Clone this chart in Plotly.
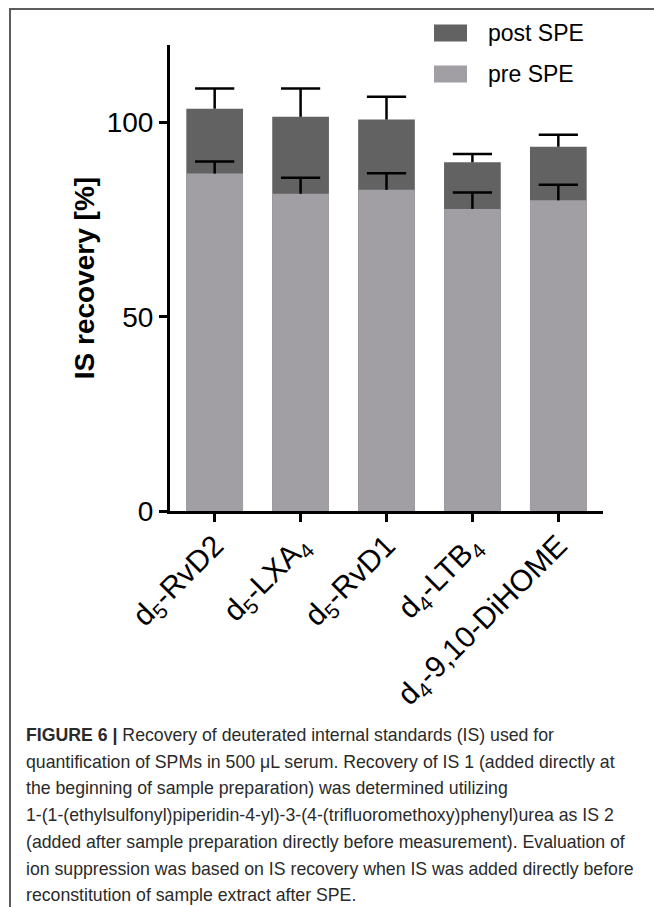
import plotly.graph_objects as go

# Internal standards and their recovery (%)
standards = [
    "d<sub>5</sub>-RvD2",
    "d<sub>5</sub>-LXA<sub>4</sub>",
    "d<sub>5</sub>-RvD1",
    "d<sub>4</sub>-LTB<sub>4</sub>",
    "d<sub>4</sub>-9,10-DiHOME",
]
post_spe = [103.6, 101.5, 100.8, 89.8, 93.8]
post_spe_err = [5.2, 7.3, 5.9, 2.1, 3.1]
pre_spe = [86.9, 81.7, 82.7, 77.8, 80.0]
pre_spe_err = [3.1, 4.1, 4.3, 4.2, 4.0]

y_ticks = [0, 50, 100]

caption_lines = [
    "<b>FIGURE 6 |</b> Recovery of deuterated internal standards (IS) used for",
    "quantification of SPMs in 500 μL serum. Recovery of IS 1 (added directly at",
    "the beginning of sample preparation) was determined utilizing",
    "1-(1-(ethylsulfonyl)piperidin-4-yl)-3-(4-(trifluoromethoxy)phenyl)urea as IS 2",
    "(added after sample preparation directly before measurement). Evaluation of",
    "ion suppression was based on IS recovery when IS was added directly before",
    "reconstitution of sample extract after SPE.",
]

W, H = 654, 907
L, R, T, B = 170, 603, 45, 511  # plot area in pixels

def px(xp):
    return (xp - L) / (R - L)

def py(yp):
    return (B - yp) / (B - T)

POST_COLOR = "#626262"
PRE_COLOR = "#a19fa4"
FONT = "Liberation Sans, Arial, sans-serif"
STEM = 2.5
CAP = 28

fig = go.Figure()
for name, vals, errs, color in [("post SPE", post_spe, post_spe_err, POST_COLOR),
                                ("pre SPE", pre_spe, pre_spe_err, PRE_COLOR)]:
    # bar with an upward-only stem (no end caps)
    fig.add_trace(go.Bar(
        x=standards, y=vals, name=name, marker=dict(color=color, line_width=0),
        width=0.66, showlegend=False,
        error_y=dict(type="data", symmetric=False, array=errs, arrayminus=[0] * len(vals),
                     color="black", thickness=STEM, width=0),
    ))
for vals, errs in [(post_spe, post_spe_err), (pre_spe, pre_spe_err)]:
    # cap at the top of each error bar
    fig.add_trace(go.Scatter(
        x=standards, y=[v + e for v, e in zip(vals, errs)], mode="markers",
        marker=dict(symbol="line-ew", size=CAP, line=dict(color="black", width=STEM)),
        showlegend=False, hoverinfo="skip",
    ))

shapes = []
annotations = []

# legend swatches and labels
for label, color, yc in [("post SPE", POST_COLOR, 33), ("pre SPE", PRE_COLOR, 74)]:
    shapes.append(dict(type="rect", xref="paper", yref="paper",
                       x0=px(434), x1=px(467), y0=py(yc - 8.5), y1=py(yc + 8.5),
                       fillcolor=color, line_width=0))
    annotations.append(dict(xref="paper", yref="paper", x=px(486), y=py(yc),
                            xanchor="left", yanchor="middle", showarrow=False,
                            text=label, font=dict(family=FONT, size=23, color="black")))

# outer frame
shapes.append(dict(type="rect", xref="paper", yref="paper",
                   x0=px(10), x1=px(670), y0=py(920), y1=py(9),
                   line=dict(color="#5c5c5c", width=2), fillcolor="rgba(0,0,0,0)", layer="below"))

# caption
for i, line in enumerate(caption_lines):
    annotations.append(dict(xref="paper", yref="paper", x=px(24), y=py(735 + i * 26.7),
                            xanchor="left", yanchor="middle", showarrow=False, align="left",
                            text=line, font=dict(family=FONT, size=17.7, color="#2a2a2a")))

fig.update_layout(
    width=W, height=H,
    margin=dict(l=L, r=W - R, t=T, b=H - B, pad=0),
    barmode="overlay",
    plot_bgcolor="white", paper_bgcolor="white",
    font=dict(family=FONT, color="black"),
    shapes=shapes, annotations=annotations,
    xaxis=dict(
        range=[-0.52, 4.52], showline=True, linecolor="black", linewidth=3,
        ticks="outside", ticklen=8, tickwidth=3, tickcolor="black",
        tickangle=-45, tickfont=dict(size=30, family=FONT, color="black"),
        ticklabelstandoff=-6,
        showgrid=False, zeroline=False,
    ),
    yaxis=dict(
        range=[0, 120], tickvals=y_ticks, showline=True, linecolor="black", linewidth=3,
        ticks="outside", ticklen=8, tickwidth=3, tickcolor="black",
        tickfont=dict(size=28, family=FONT, color="black"),
        showgrid=False, zeroline=False,
        title=dict(text="<b>IS recovery [%]</b>", font=dict(size=28, family=FONT, color="black"), standoff=4),
    ),
)

fig.write_html("out.html")
